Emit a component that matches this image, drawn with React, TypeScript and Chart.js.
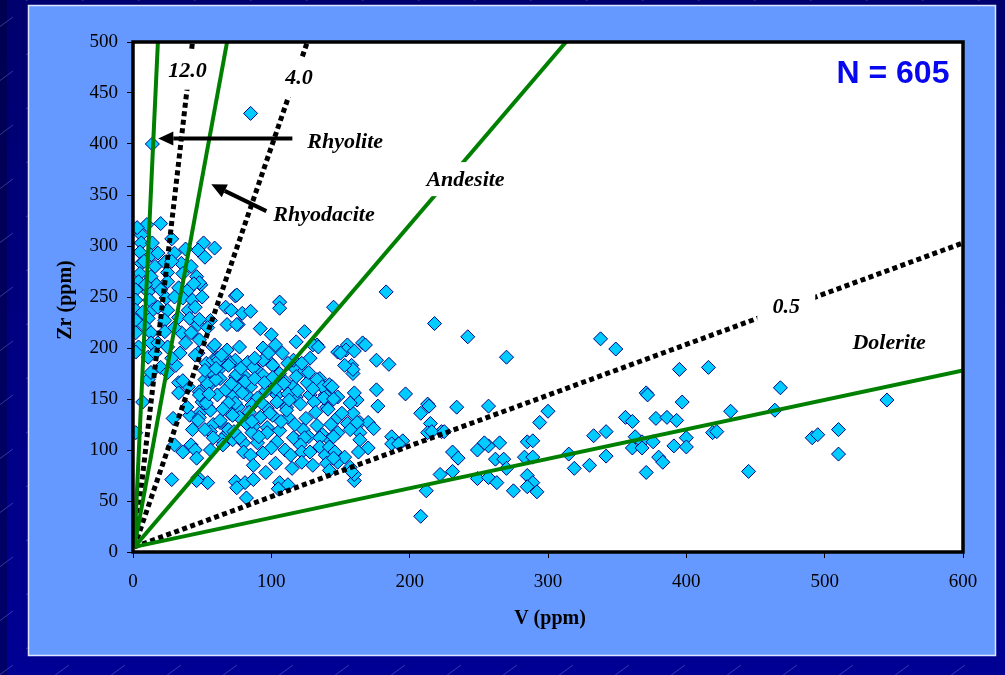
import { useEffect, useRef } from 'react';
import { Chart, registerables } from 'chart.js';

Chart.register(...registerables);

type Pt = [number, number];

// ---------- Axis ranges / ticks ----------
const V_MIN = 0;
const V_MAX = 600;
const V_STEP = 100;
const ZR_MIN = 0;
const ZR_MAX = 500;
const ZR_STEP = 50;
const X_TITLE = 'V (ppm)';
const Y_TITLE = 'Zr (ppm)';
const SAMPLE_COUNT_LABEL = 'N = 605';

// ---------- Samples [V ppm, Zr ppm] ----------
const upperLeftCluster: Pt[] = [
  [14, 400], [85, 430], [20, 322], [10, 321], [6, 311], [6, 303], [14, 303], [5, 294], [13, 291], [30, 293],
  [51, 303], [47, 296], [59, 298], [52, 289], [6, 283], [16, 280], [23, 284], [35, 283], [42, 280], [5, 273],
  [13, 270], [25, 274], [36, 273], [46, 270], [49, 262], [4, 265], [17, 262], [25, 265], [2, 257], [11, 255],
  [20, 257], [33, 259], [40, 257], [2, 247], [12, 247], [24, 249], [36, 249], [43, 247], [2, 237], [14, 237],
  [25, 237], [40, 237], [2, 227], [11, 229], [23, 227], [33, 230], [41, 229], [47, 223], [56, 227], [2, 215],
  [13, 215], [23, 216], [35, 215], [42, 215], [4, 201], [13, 205], [25, 201], [38, 205], [58, 201], [2, 196],
  [11, 191], [34, 195], [47, 195], [53, 185], [58, 188], [20, 181], [31, 183], [63, 180], [69, 188], [67, 240],
  [71, 237], [48, 264], [48, 228], [54, 220], [68, 223], [76, 223], [74, 251], [11, 169], [13, 176], [25, 176],
  [33, 166], [40, 162], [36, 168], [8, 285], [18, 293], [28, 285], [9, 262], [30, 250], [18, 240], [30, 220],
  [8, 222], [18, 205], [28, 190], [45, 240], [50, 250], [7, 235], [38, 297], [28, 307], [3, 318], [44, 263],
  [16, 195],
];

const centralCluster: Pt[] = [
  [75, 252], [106, 245], [106, 239], [79, 234], [85, 236], [75, 223], [92, 219], [100, 213], [124, 216], [118, 206],
  [145, 240], [77, 201], [94, 200], [103, 203], [108, 195], [133, 203], [128, 190], [74, 188], [83, 186], [99, 186],
  [90, 178], [117, 180], [124, 178], [148, 196], [74, 172], [81, 172], [94, 173], [106, 175], [110, 167], [116, 162],
  [135, 170], [142, 162], [139, 154], [140, 142], [75, 161], [85, 162], [99, 162], [72, 152], [82, 154], [90, 151],
  [104, 154], [118, 152], [128, 154], [76, 142], [86, 144], [97, 141], [111, 142], [77, 132], [92, 132], [101, 134],
  [112, 132], [87, 123], [97, 122], [123, 120], [72, 110], [80, 107], [90, 107], [104, 108], [118, 110], [127, 113],
  [137, 115], [142, 110], [148, 152], [130, 203], [134, 201], [155, 203], [154, 198], [158, 183], [159, 175], [166, 205],
  [61, 190], [57, 173], [63, 170], [51, 160], [52, 169], [48, 157], [57, 166], [50, 147], [54, 142], [48, 136],
  [62, 188], [68, 198], [70, 185], [75, 174], [81, 167], [87, 181], [94, 188], [101, 183], [116, 188], [122, 185],
  [101, 171], [109, 165], [112, 155], [119, 158], [126, 166], [133, 169], [137, 162], [142, 164], [138, 151], [141, 140],
  [148, 132], [159, 136], [162, 149], [155, 126], [164, 127], [148, 117], [164, 117], [111, 139], [99, 136], [92, 132],
  [82, 126], [74, 146], [70, 136], [63, 127], [68, 116], [77, 112], [86, 117], [97, 117], [106, 119], [116, 112],
  [124, 112], [135, 112], [135, 103], [121, 105], [48, 208], [59, 203], [64, 193], [69, 183], [52, 178], [45, 193],
  [61, 154], [67, 159], [72, 134], [58, 125], [41, 134], [43, 120], [48, 154], [54, 165], [60, 169], [48, 132],
  [56, 118], [56, 139], [63, 129], [69, 146], [69, 120], [64, 110], [53, 146], [39, 142], [29, 131], [47, 129],
  [52, 120], [33, 156], [7, 147], [2, 117], [78, 180], [88, 170], [96, 158], [104, 147], [113, 149], [121, 145],
  [131, 147], [93, 146], [84, 137], [107, 128], [117, 125], [125, 131], [132, 137], [79, 156], [88, 190], [98, 195],
  [112, 185], [118, 172], [127, 176], [95, 166], [103, 160], [86, 128], [110, 100], [100, 102], [133, 124], [143, 125],
  [73, 118], [80, 98], [91, 113], [130, 160], [145, 150], [60, 180], [55, 155], [65, 140], [71, 165], [58, 112],
  [42, 105], [36, 98],
];

const lowerCluster: Pt[] = [
  [30, 105], [45, 100], [46, 92], [56, 100], [65, 105], [28, 71], [47, 73], [54, 68], [85, 95], [94, 97],
  [114, 95], [122, 98], [128, 98], [139, 95], [142, 103], [87, 85], [96, 78], [103, 87], [115, 82], [122, 88],
  [130, 85], [140, 87], [142, 80], [148, 88], [74, 69], [81, 68], [87, 71], [75, 63], [106, 68], [112, 66],
  [82, 53], [46, 70], [105, 62], [160, 70],
];

const midScatter: Pt[] = [
  [183, 255], [218, 224], [242, 211], [270, 191], [197, 155], [168, 203], [160, 197], [176, 188], [185, 184], [159, 179],
  [176, 159], [177, 143], [160, 156], [213, 145], [208, 136], [215, 126], [234, 142], [257, 143], [300, 138], [294, 127],
  [213, 117], [223, 118], [170, 127], [174, 121], [162, 127], [157, 120], [187, 113], [195, 109], [187, 106], [164, 110],
  [170, 102], [163, 98], [160, 76], [157, 83], [231, 98], [235, 92], [231, 79], [222, 76], [212, 60], [208, 35],
  [249, 100], [257, 104], [254, 107], [265, 107], [262, 91], [268, 91], [270, 82], [249, 72], [257, 73], [263, 68],
  [275, 60], [285, 108], [289, 109], [283, 93], [289, 93], [285, 75], [289, 68], [285, 64], [292, 59], [150, 195],
  [153, 183], [144, 162], [157, 146], [151, 136], [145, 113], [146, 98], [153, 93], [145, 92], [158, 79], [214, 143],
  [216, 118], [225, 118], [192, 106],
];

const maficScatter: Pt[] = [
  [338, 209], [349, 199], [395, 179], [416, 181], [371, 156], [372, 154], [397, 147], [432, 138], [315, 96], [319, 82],
  [330, 85], [333, 114], [342, 118], [342, 94], [356, 132], [361, 128], [363, 113], [368, 108], [361, 102], [368, 102],
  [376, 108], [378, 131], [386, 132], [393, 129], [380, 93], [383, 88], [371, 78], [391, 104], [400, 112], [400, 103],
  [419, 117], [422, 118], [445, 79], [468, 161], [464, 139], [545, 149], [491, 112], [495, 115], [510, 120], [510, 96],
];

// ---------- Discrimination lines (from common origin to end point) ----------
const LINE_ORIGIN: Pt = [1, 5];
const greenFieldLines: { name: string; end: Pt }[] = [
  { name: 'Rhyolite', end: [18, 500] },
  { name: 'Rhyodacite', end: [68, 500] },
  { name: 'Andesite', end: [313, 500] },
  { name: 'Dolerite', end: [600, 178] },
];
const dottedRatioLines: { name: string; end: Pt }[] = [
  { name: '12.0', end: [43, 500] },
  { name: '4.0', end: [126, 500] },
  { name: '0.5', end: [600, 303] },
];

// ---------- Text annotations (data coordinates, left/baseline anchored) ----------
const fieldLabels: { text: string; v: number; zr: number; boxed: boolean }[] = [
  { text: 'Rhyolite', v: 126.0, zr: 395.7, boxed: false },
  { text: 'Rhyodacite', v: 101.4, zr: 324.4, boxed: false },
  { text: 'Andesite', v: 212.1, zr: 358.7, boxed: true },
  { text: 'Dolerite', v: 520.1, zr: 198.8, boxed: false },
];
const ratioLabels: { text: string; v: number; zr: number }[] = [
  { text: '12.0', v: 25.5, zr: 466.0 },
  { text: '4.0', v: 110.1, zr: 458.8 },
  { text: '0.5', v: 462.3, zr: 234.2 },
];
const arrows: { from: Pt; to: Pt }[] = [
  { from: [115.2, 405.3], to: [18.3, 405.3] },
  { from: [96.4, 334.2], to: [56.6, 360.5] },
];
const countLabelPos: Pt = [590.2, 460.1];

const allSamples: Pt[] = [
  ...upperLeftCluster,
  ...centralCluster,
  ...lowerCluster,
  ...midScatter,
  ...maficScatter,
];

const SERIF = '"Liberation Serif", "Times New Roman", serif';
const SANS = '"Liberation Sans", Arial, sans-serif';

const decorPlugin = {
  id: 'decor',
  beforeDraw(chart: any) {
    const { ctx, chartArea: a, width: W, height: H } = chart;
    ctx.save();
    const bg = ctx.createLinearGradient(0, 0, 0, H);
    bg.addColorStop(0, '#00006E');
    bg.addColorStop(1, '#000094');
    ctx.fillStyle = bg;
    ctx.fillRect(0, 0, W, H);
    ctx.fillStyle = 'rgba(0,0,30,0.35)';
    ctx.fillRect(0, 0, 7, H);
    ctx.strokeStyle = 'rgba(170,185,255,0.3)';
    ctx.lineWidth = 1;
    for (let y = -10, r = 0; y < H + 20; y += 27, r++) {
      for (let x = (r % 2) * 28 - 30; x < W + 20; x += 56) {
        ctx.beginPath();
        ctx.moveTo(x, y + 11);
        ctx.lineTo(x + 15, y);
        ctx.stroke();
      }
    }
    // light blue panel
    ctx.fillStyle = '#6699FF';
    ctx.fillRect(28, 5, 968, 651);
    ctx.strokeStyle = '#DCE6FF';
    ctx.lineWidth = 1.5;
    ctx.strokeRect(28.5, 5.5, 967, 650);
    // plot area
    ctx.fillStyle = '#FFFFFF';
    ctx.fillRect(a.left, a.top, a.right - a.left, a.bottom - a.top);
    ctx.restore();
  },
  afterDatasetsDraw(chart: any) {
    const { ctx, chartArea: a } = chart;
    const xs = chart.scales.x;
    const ys = chart.scales.y;
    ctx.save();
    // ratio labels with white boxes interrupting dotted lines
    ctx.font = `italic bold 22px ${SERIF}`;
    ctx.textBaseline = 'alphabetic';
    ctx.textAlign = 'left';
    const boxW = [52, 52, 58];
    ratioLabels.forEach((l, i) => {
      const px = xs.getPixelForValue(l.v);
      const py = ys.getPixelForValue(l.zr);
      const tw = ctx.measureText(l.text).width;
      const cx = px + tw / 2;
      const cy = py - 6;
      ctx.fillStyle = '#FFFFFF';
      ctx.fillRect(cx - boxW[i] / 2, cy - 19, boxW[i], 38);
      ctx.fillStyle = '#000000';
      ctx.fillText(l.text, px, py);
    });
    fieldLabels.forEach((l) => {
      const px = xs.getPixelForValue(l.v);
      const py = ys.getPixelForValue(l.zr);
      if (l.boxed) {
        const tw = ctx.measureText(l.text).width;
        ctx.fillStyle = '#FFFFFF';
        ctx.fillRect(px - 7, py - 24, tw + 14, 34);
      }
      ctx.fillStyle = '#000000';
      ctx.fillText(l.text, px, py);
    });
    // arrows
    arrows.forEach((ar) => {
      const x1 = xs.getPixelForValue(ar.from[0]);
      const y1 = ys.getPixelForValue(ar.from[1]);
      const x2 = xs.getPixelForValue(ar.to[0]);
      const y2 = ys.getPixelForValue(ar.to[1]);
      const ang = Math.atan2(y2 - y1, x2 - x1);
      const headL = 15;
      const headW = 7;
      const bx = x2 - headL * Math.cos(ang);
      const by = y2 - headL * Math.sin(ang);
      ctx.strokeStyle = '#000000';
      ctx.lineWidth = 4;
      ctx.beginPath();
      ctx.moveTo(x1, y1);
      ctx.lineTo(bx, by);
      ctx.stroke();
      ctx.fillStyle = '#000000';
      ctx.beginPath();
      ctx.moveTo(x2, y2);
      ctx.lineTo(bx + headW * Math.sin(ang), by - headW * Math.cos(ang));
      ctx.lineTo(bx - headW * Math.sin(ang), by + headW * Math.cos(ang));
      ctx.closePath();
      ctx.fill();
    });
    // sample count
    ctx.font = `bold 32px ${SANS}`;
    ctx.fillStyle = '#0808EE';
    ctx.textAlign = 'right';
    ctx.fillText(
      SAMPLE_COUNT_LABEL,
      xs.getPixelForValue(countLabelPos[0]),
      ys.getPixelForValue(countLabelPos[1])
    );
    // frame
    ctx.strokeStyle = '#000000';
    ctx.lineWidth = 3.5;
    ctx.strokeRect(a.left, a.top, a.right - a.left, a.bottom - a.top);
    // axis titles
    ctx.fillStyle = '#000000';
    ctx.font = `bold 20px ${SERIF}`;
    ctx.textAlign = 'center';
    ctx.textBaseline = 'middle';
    ctx.fillText(X_TITLE, (a.left + a.right) / 2 + 2, 619);
    ctx.translate(66, (a.top + a.bottom) / 2 + 3);
    ctx.rotate(-Math.PI / 2);
    ctx.fillText(Y_TITLE, 0, 0);
    ctx.restore();
  },
};

export default function App() {
  const ref = useRef<HTMLCanvasElement | null>(null);

  useEffect(() => {
    if (!ref.current) return;
    const toXY = (p: Pt) => ({ x: p[0], y: p[1] });
    const lineSets: any[] = [
      ...dottedRatioLines.map((l) => ({
        label: l.name,
        data: [toXY(LINE_ORIGIN), toXY(l.end)],
        showLine: true,
        pointRadius: 0,
        borderColor: '#000000',
        borderWidth: 5,
        borderDash: [5, 3.5],
        borderCapStyle: 'butt',
        fill: false,
        order: 1,
      })),
      ...greenFieldLines.map((l) => ({
        label: l.name,
        data: [toXY(LINE_ORIGIN), toXY(l.end)],
        showLine: true,
        pointRadius: 0,
        borderColor: '#008000',
        borderWidth: 4,
        fill: false,
        order: 0,
      })),
    ];
    const chart = new Chart(ref.current, {
      type: 'scatter',
      data: {
        datasets: [
          ...lineSets,
          {
            label: 'Samples',
            data: allSamples.map(toXY),
            pointStyle: 'rectRot',
            pointRadius: 7,
            backgroundColor: '#00CCFF',
            borderColor: '#000080',
            borderWidth: 1,
            showLine: false,
            order: 5,
          },
        ],
      },
      options: {
        responsive: false,
        animation: false,
        events: [],
        layout: { padding: { left: 0, right: 42, top: 42, bottom: 0 } },
        plugins: { legend: { display: false }, tooltip: { enabled: false } },
        scales: {
          x: {
            type: 'linear',
            position: 'bottom',
            min: V_MIN,
            max: V_MAX,
            ticks: {
              stepSize: V_STEP,
              color: '#000000',
              font: { family: SERIF, size: 19 },
              padding: 13,
              maxRotation: 0,
            },
            grid: { drawOnChartArea: false, drawTicks: true, tickLength: 6, color: '#000000' },
            border: { display: false },
            afterFit: (s: any) => {
              s.height = 123;
            },
          },
          y: {
            type: 'linear',
            position: 'left',
            min: ZR_MIN,
            max: ZR_MAX,
            ticks: {
              stepSize: ZR_STEP,
              color: '#000000',
              font: { family: SERIF, size: 19 },
              padding: 9,
            },
            grid: { drawOnChartArea: false, drawTicks: true, tickLength: 6, color: '#000000' },
            border: { display: false },
            afterFit: (s: any) => {
              s.width = 133;
            },
          },
        },
      },
      plugins: [decorPlugin],
    } as any);
    return () => chart.destroy();
  }, []);

  return (
    <div style={{ position: 'fixed', left: 0, top: 0, width: 1005, height: 675, overflow: 'hidden' }}>
      <canvas ref={ref} width={1005} height={675} style={{ display: 'block' }} />
    </div>
  );
}
